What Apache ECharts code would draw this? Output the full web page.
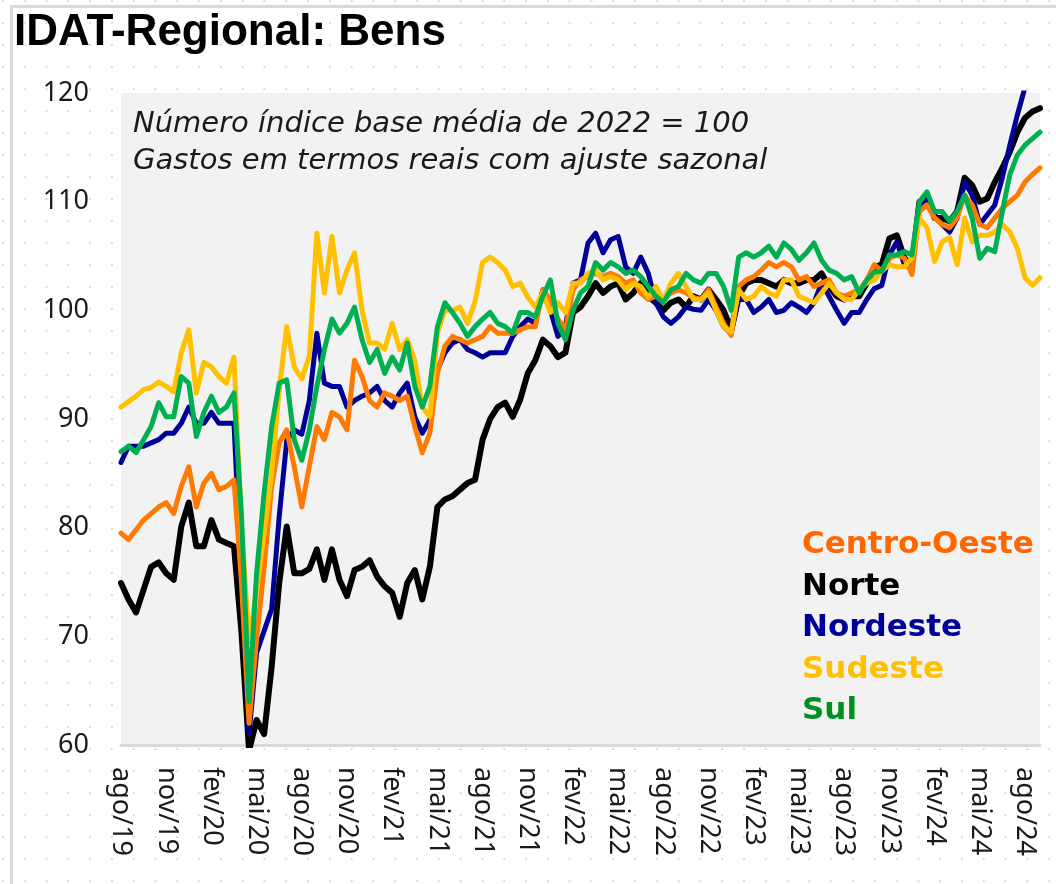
<!DOCTYPE html>
<html>
<head>
<meta charset="utf-8">
<title>IDAT-Regional: Bens</title>
<script src="https://cdn.jsdelivr.net/npm/echarts@6/dist/echarts.min.js"></script>
<style>
  html, body {
    margin: 0;
    padding: 0;
    width: 1056px;
    height: 884px;
    overflow: hidden;
    background-color: #fff;
    background-image: radial-gradient(circle, #dedede 1.1px, transparent 1.6px);
    background-size: 21.8px 22px;
    background-position: -8px -10px;
  }
  #moldura {
    position: absolute;
    left: 10px;
    top: 5px;
    right: 0;
    bottom: 0;
    border-left: 3px solid #d9d9d9;
    border-top: 3px solid #d9d9d9;
  }
  #chart {
    position: absolute;
    left: 0;
    top: 0;
    width: 1056px;
    height: 884px;
  }
</style>
</head>
<body>
<div id="moldura"></div>
<div id="chart"></div>
<script>
// rótulos dos meses do eixo x
var meses = ['jan', 'fev', 'mar', 'abr', 'mai', 'jun', 'jul', 'ago', 'set', 'out', 'nov', 'dez'];

// séries quinzenais, de 1/ago/2019 a 1/set/2024
var centroOeste = [79.5, 78.9, 79.8, 80.7, 81.3, 81.9, 82.3, 81.3, 83.8, 85.6, 81.9, 84.1, 85, 83.5, 83.8, 84.4, 74.9, 62, 69.7, 76.4, 83.8, 87.8, 89, 85.6, 81.9, 85.6,
  89.3, 88.1, 90.6, 90.2, 89, 95.4, 93.9, 91.7, 91.1, 92.4, 92.1, 91.7, 92.1, 89.3, 86.9, 88.7, 94.2, 96.7, 97.6, 97.3, 97, 97.3, 97.6, 98.5,
  97.9, 97.9, 97.9, 98.2, 98.5, 98.5, 101.9, 101, 99.2, 98.2, 101.9, 102.8, 103.1, 103.4, 103.1, 103.4, 103.1, 102.5, 102.8, 101.6, 101, 101.3, 101, 101.6, 101.9, 101.6, 101.2,
  101, 101.9, 100.3, 98.8, 97.7, 102.2, 102.8, 103.1, 103.7, 104.4, 104, 104.4, 104, 102.8, 103.1, 102.2, 102.5, 102.8, 101.6, 101.3, 101.6, 101.9, 102.8,
  104.2, 103.6, 104.8, 105.1, 104.8, 103.3, 109.1, 109.7, 108.5, 107.9, 107.6, 108.5, 110.6, 109.7, 107.9, 107.6, 108.5, 109.4, 110, 110.6, 111.8, 112.5, 113.1];

var norte = [74.9, 73.4, 72.2, 74.3, 76.4, 76.8, 75.8, 75.2, 80.1, 82.3, 78.3, 78.3, 80.7, 78.9, 78.6, 78.3, 70.3, 59.5, 62.3, 61, 67.2, 74.9, 80.1, 75.8, 75.8, 76.2,
  78, 75.2, 78, 75.2, 73.7, 76.1, 76.4, 77, 75.5, 74.6, 74, 71.8, 74.9, 76.1, 73.4, 76.4, 81.9, 82.6, 82.9, 83.5, 84.1, 84.4, 88.1, 90,
  91.1, 91.5, 90.2, 91.8, 94.2, 95.4, 97.3, 96.7, 95.7, 96.1, 99.8, 100.3, 101.3, 102.5, 101.6, 102.2, 102.5, 101, 101.6, 102.5, 101.3, 100.7, 100, 100.7, 101, 100.3, 101.3,
  101, 101.9, 101, 100, 98.2, 101.3, 102.5, 102.8, 102.8, 102.5, 102.2, 102.8, 102.5, 102.5, 102.8, 102.8, 103.4, 102.2, 101.3, 101, 101.3, 101.3, 102.5,
  104, 104.2, 106.6, 106.9, 104.8, 104.2, 110, 110.3, 108.5, 108.5, 108.2, 109.1, 112.2, 111.5, 110, 110.3, 111.8, 113.1, 114.6, 116.4, 117.7, 118.3, 118.6];

var nordeste = [86, 87.5, 87.5, 87.5, 87.8, 88.1, 88.7, 88.7, 89.6, 91.1, 89.6, 89.6, 90.6, 89.6, 89.6, 89.6, 74.9, 61, 68.5, 70.5, 72.5, 81, 88, 89, 88.6, 91.7,
  97.9, 93.3, 93, 93, 91.1, 91.7, 92.1, 92.4, 93, 91.7, 91.1, 92.4, 93.3, 90.2, 88.7, 89.9, 94.5, 96.1, 97, 97.3, 96.4, 96.1, 95.7, 96.1,
  96.1, 96.1, 97.6, 98.5, 99.2, 98.8, 101.9, 100, 97.6, 98.5, 102.5, 102.8, 106.2, 107.1, 105.3, 106.5, 106.8, 104, 103.4, 104.9, 103.4, 100.7, 99.4, 98.8, 99.4, 100.3, 100.1,
  100, 101, 100, 98.5, 97.9, 101, 101, 99.8, 100.3, 101, 99.8, 100, 100.7, 100.3, 99.8, 100.7, 102.5, 101.3, 100, 98.8, 99.8, 99.8, 101,
  102, 102.3, 105.1, 106.3, 104.2, 103.9, 109.7, 110.3, 108.8, 107.9, 107.2, 108.5, 111.8, 110.6, 107.9, 108.8, 109.7, 112.2, 115.2, 118, 120.5, 122, 123];

var sudeste = [91.1, 91.6, 92.1, 92.7, 92.9, 93.4, 93, 92.5, 96.1, 98.2, 92.4, 95.2, 94.8, 93.9, 93.3, 95.7, 80, 69.5, 74.3, 79.5, 85, 92.7, 98.5, 94.8, 93.7, 95.8,
  107.1, 101.6, 106.8, 101.6, 103.7, 105.3, 100, 97, 97, 96.4, 98.8, 96.4, 97.3, 95.4, 91.1, 90.2, 97.9, 100, 100, 100.3, 98.8, 100.8, 104.4, 104.9,
  104.4, 103.7, 102.2, 102.5, 101.2, 100.3, 101.6, 99.8, 100.7, 99.8, 102.5, 102.5, 103.4, 103.7, 102.8, 103.1, 102.8, 101.9, 102.5, 102.2, 101.2, 102.2, 100.9, 102.5, 103.4, 102.2, 101,
  101, 101.6, 100, 98.5, 98, 101.9, 101, 101.3, 102.2, 101.6, 101.3, 102.8, 102.8, 101.3, 101, 100.7, 101.6, 102.5, 101.6, 101, 101, 101.9, 102.5,
  102.8, 103.6, 104.2, 104, 104, 104.8, 108.5, 107.6, 104.5, 106.3, 106.7, 104.2, 108.5, 106.3, 106.9, 106.9, 107.2, 107.9, 107.2, 105.7, 103, 102.3, 103];

var sul = [87, 87.5, 86.9, 88.1, 89.3, 91.5, 90.2, 90.2, 93.9, 93.3, 88.4, 90.6, 92.1, 90.6, 91.1, 92.4, 81, 64, 75.8, 83.2, 89.3, 93.3, 93.6, 88.1, 86.2, 89,
  93, 96.4, 99.2, 97.9, 98.8, 100.3, 97.3, 95.2, 96.4, 94.2, 95.7, 94.5, 97, 93, 91.1, 93, 98.5, 100.7, 99.8, 98.8, 97.6, 98.5, 99.2, 99.8,
  98.8, 98.5, 97.9, 99.8, 99.8, 99.4, 101.3, 102.8, 98.8, 97.3, 100, 101.6, 102.2, 104.4, 103.7, 104.4, 104, 103.4, 103.7, 103.1, 102.2, 101.3, 100.7, 101.9, 102.2, 103.4, 102.8,
  102.5, 103.4, 103.4, 102.2, 100, 104.9, 105.3, 104.9, 105.3, 105.9, 104.9, 106.2, 105.6, 104.6, 105.3, 106.2, 104.6, 103.7, 103.4, 102.8, 103.1, 101.6, 102.8,
  103.5, 103.6, 105.1, 105.1, 105.4, 105.1, 110, 110.9, 109.1, 109.1, 108.2, 109.1, 110.6, 108.5, 104.8, 105.7, 105.4, 109.1, 112.5, 114.3, 115.2, 115.8, 116.4];

// datas quinzenais: "ago/19|01", "ago/19|16", ...
var datas = [];
for (var k = 0; k < norte.length; k++) {
  var m = 7 + Math.floor(k / 2);
  var ano = 2019 + Math.floor(m / 12);
  datas.push(meses[m % 12] + '/' + String(ano).slice(2) + (k % 2 ? '|16' : '|01'));
}

var chart = echarts.init(document.getElementById('chart'), null, { renderer: 'canvas' });

function serie(nome, dados, cor, largura) {
  return {
    name: nome,
    type: 'line',
    data: dados,
    symbol: 'none',
    showSymbol: false,
    clip: true,
    lineStyle: { color: cor, width: largura, join: 'round', cap: 'round' },
    itemStyle: { color: cor }
  };
}

chart.setOption({
  animation: false,
  title: [
    {
      text: 'IDAT-Regional: Bens',
      left: 9,
      top: 6,
      textStyle: { fontFamily: 'Liberation Sans', fontWeight: 'bold', fontSize: 44, color: '#000' }
    },
    {
      text: 'Número índice base média de 2022 = 100\nGastos em termos reais com ajuste sazonal',
      left: 128,
      top: 101,
      textStyle: { fontFamily: 'DejaVu Sans', fontStyle: 'italic', fontWeight: 'normal', fontSize: 29, lineHeight: 37, color: '#1a1a1a' }
    }
  ],
  legend: {
    orient: 'vertical',
    left: 792,
    top: 524,
    icon: 'none',
    itemWidth: 0,
    itemGap: 9.5,
    selectedMode: false,
    textStyle: { fontFamily: 'DejaVu Sans', fontWeight: 'bold', fontSize: 31, lineHeight: 32 },
    data: [
      { name: 'Centro-Oeste', textStyle: { color: '#ff6600' } },
      { name: 'Norte', textStyle: { color: '#000000' } },
      { name: 'Nordeste', textStyle: { color: '#000099' } },
      { name: 'Sudeste', textStyle: { color: '#ffc000' } },
      { name: 'Sul', textStyle: { color: '#00901f' } }
    ]
  },
  grid: {
    left: 121,
    right: 16,
    top: 93,
    bottom: 139,
    show: true,
    backgroundColor: '#f2f2f2',
    borderWidth: 0
  },
  xAxis: {
    type: 'category',
    data: datas,
    boundaryGap: false,
    axisLine: { show: true, lineStyle: { color: '#d9d9d9', width: 3 } },
    axisTick: { show: false },
    splitLine: { show: false },
    axisLabel: {
      rotate: -90,
      margin: 22,
      fontFamily: 'Noto Sans',
      fontSize: 27,
      color: '#1a1a1a',
      interval: function (idx) { return idx % 6 === 0; },
      formatter: function (v) { return v.split('|')[0]; }
    }
  },
  yAxis: {
    type: 'value',
    min: 60,
    max: 120,
    interval: 10,
    axisLine: { show: false },
    axisTick: { show: false },
    splitLine: { show: false },
    axisLabel: {
      margin: 32,
      fontFamily: 'Noto Sans',
      fontSize: 27,
      color: '#1a1a1a'
    }
  },
  series: [
    serie('Norte', norte, '#000000', 6),
    serie('Nordeste', nordeste, '#000099', 5),
    serie('Centro-Oeste', centroOeste, '#ff7a00', 5),
    serie('Sudeste', sudeste, '#ffc000', 5),
    serie('Sul', sul, '#00b050', 5)
  ]
});
</script>
</body>
</html>
